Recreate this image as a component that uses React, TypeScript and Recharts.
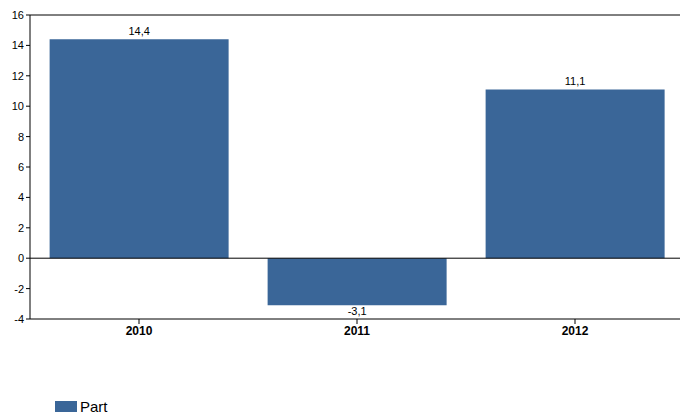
import { BarChart, Bar, XAxis, YAxis, ReferenceLine, LabelList, Legend } from "recharts";

const years = ["2010", "2011", "2012"];
const part = [14.4, -3.1, 11.1];
const yTicks = [-4, -2, 0, 2, 4, 6, 8, 10, 12, 14, 16];

const data = years.map((year, i) => ({ year, part: part[i] }));

const BLUE = "#3a6698";

const fmt = (v: number) => String(v).replace(".", ",");

function BarLabel(props: any) {
  const { x, y, width, height, value } = props;
  const top = Math.min(y, y + height);
  const bottom = Math.max(y, y + height);
  const ty = value < 0 ? bottom + 10 : top - 4;
  return (
    <text x={x + width / 2} y={ty} textAnchor="middle" fontSize={11} fill="#000">
      {fmt(value)}
    </text>
  );
}

function LegendContent() {
  return (
    <div style={{ display: "flex", alignItems: "center", fontSize: 15, color: "#000" }}>
      <span style={{ display: "inline-block", width: 22, height: 11, background: BLUE, marginRight: 3 }} />
      Part
    </div>
  );
}

export default function App() {
  return (
    <div style={{ position: "absolute", left: 0, top: 0, fontFamily: "'Liberation Sans', Arial, sans-serif" }}>
      <BarChart
        width={680}
        height={415}
        data={data}
        margin={{ top: 15, right: -4, left: 0, bottom: 49 }}
        barCategoryGap="9%"
      >
        <YAxis
          width={30}
          domain={[-4, 16]}
          ticks={yTicks}
          interval={0}
          tick={{ fontSize: 11, fill: "#000" }}
          stroke="#000"
          tickSize={4}
        />
        <XAxis
          dataKey="year"
          height={30}
          tick={{ fontSize: 12, fill: "#000", fontWeight: "bold" }}
          stroke="#000"
          tickSize={5}
        />
        <ReferenceLine y={16} stroke="#000" />
        <ReferenceLine y={0} stroke="#000" />
        <Bar dataKey="part" fill={BLUE} isAnimationActive={false}>
          <LabelList dataKey="part" content={<BarLabel />} />
        </Bar>
        <Legend
          content={<LegendContent />}
          wrapperStyle={{ position: "absolute", left: 55, top: 398, width: "auto" }}
        />
      </BarChart>
    </div>
  );
}
